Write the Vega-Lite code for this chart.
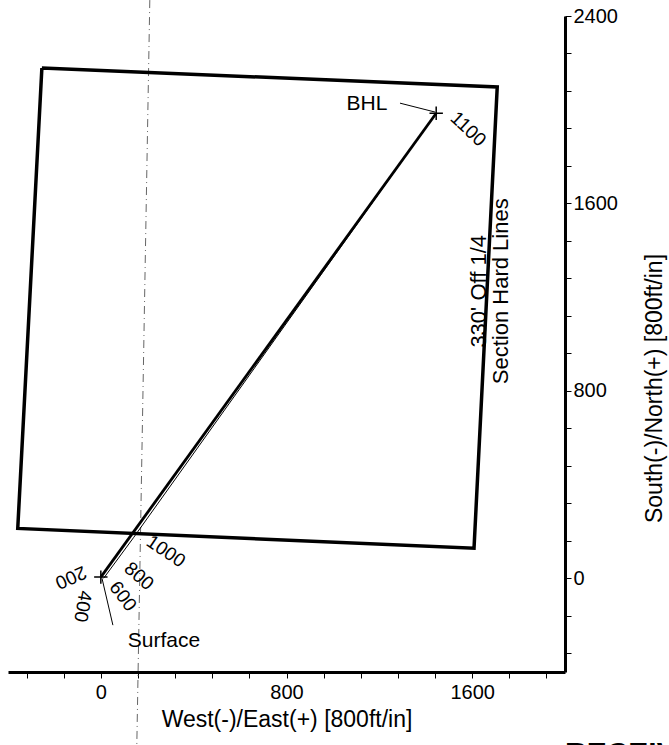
{
  "$schema": "https://vega.github.io/schema/vega-lite/v6.json",
  "width": 557,
  "height": 656,
  "autosize": {"type": "none"},
  "padding": {"left": 8, "top": 16, "right": 104, "bottom": 73},
  "background": "white",
  "config": {
    "view": {"stroke": null},
    "font": "Liberation Sans",
    "text": {"font": "Liberation Sans", "fontSize": 22, "color": "black"},
    "axis": {
      "grid": false,
      "domainColor": "black",
      "domainWidth": 3,
      "tickColor": "black",
      "tickWidth": 1,
      "tickSize": 6,
      "labelColor": "black",
      "labelFont": "Liberation Sans",
      "labelFontSize": 20,
      "titleFont": "Liberation Sans",
      "titleFontSize": 22,
      "titleFontWeight": "normal",
      "titleColor": "black"
    }
  },
  "datasets": {
    "box": [
      {"x": -254, "y": 2178, "order": 1},
      {"x": 1708, "y": 2097, "order": 2},
      {"x": 1608, "y": 128, "order": 3},
      {"x": -358, "y": 213, "order": 4},
      {"x": -254, "y": 2178, "order": 5}
    ],
    "fold": [
      {"x": 211, "y": 2468, "order": 1},
      {"x": 155, "y": -713, "order": 2}
    ],
    "well": [
      {"series": "plan", "x": 12, "y": 0, "order": 1},
      {"series": "plan", "x": 142, "y": 175, "order": 2},
      {"series": "plan", "x": 1445, "y": 1985, "order": 3},
      {"series": "actual", "x": 0, "y": 5, "order": 1},
      {"series": "actual", "x": 1445, "y": 1985, "order": 2}
    ],
    "leaders": [
      {"name": "bhl", "x": 1289, "y": 2028, "order": 1},
      {"name": "bhl", "x": 1440, "y": 1990, "order": 2},
      {"name": "surface", "x": 5, "y": 0, "order": 1},
      {"name": "surface", "x": 52, "y": -200, "order": 2}
    ],
    "crosses": [
      {"x": 0, "y": 5},
      {"x": 1445, "y": 1985}
    ],
    "labels": [
      {"label": "1100", "x": 1583, "y": 1917},
      {"label": "1000", "x": 280, "y": 115},
      {"label": "800", "x": 164, "y": 9},
      {"label": "600", "x": 95, "y": -77},
      {"label": "400", "x": -78, "y": -120},
      {"label": "200", "x": -129, "y": 4},
      {"label": "BHL", "x": 1147, "y": 2024},
      {"label": "Surface", "x": 272, "y": -269}
    ],
    "notes": [
      {"x": 1630, "y": 1225}
    ],
    "stamp": [
      {"x": 2000, "y": -687}
    ]
  },
  "encoding": {
    "x": {"field": "x", "type": "quantitative",
      "scale": {"domain": [-400, 2000], "nice": false, "zero": false},
      "axis": {
        "orient": "bottom",
        "title": "West(-)/East(+) [800ft/in]",
        "titleFontSize": 23,
        "values": [-320, -160, 0, 160, 320, 480, 640, 800, 960, 1120, 1280, 1440, 1600, 1760, 1920],
        "format": "d",
        "labelExpr": "datum.value % 800 === 0 ? datum.label : ''",
        "labelPadding": 4,
        "titlePadding": 6,
        "labelFlush": false,
        "labelOverlap": false
      }
    },
    "y": {"field": "y", "type": "quantitative",
      "scale": {"domain": [-400, 2400], "nice": false, "zero": false},
      "axis": {
        "orient": "right",
        "title": "South(-)/North(+) [800ft/in]",
        "titleFontSize": 23,
        "titleAngle": -90,
        "titleAlign": "center",
        "titleBaseline": "middle",
        "titleX": 89,
        "titleY": 372,
        "values": [-320, -160, 0, 160, 320, 480, 640, 800, 960, 1120, 1280, 1440, 1600, 1760, 1920, 2080, 2240, 2400],
        "format": "d",
        "labelExpr": "datum.value % 800 === 0 ? datum.label : ''",
        "labelPadding": 2,
        "labelFlush": false,
        "labelOverlap": false
      }
    }
  },
  "layer": [
    {
      "data": {"name": "fold"},
      "mark": {"type": "line", "color": "#666666", "strokeWidth": 1, "strokeDash": [8, 4, 1, 4]},
      "encoding": {"order": {"field": "order", "type": "ordinal"}}
    },
    {
      "data": {"name": "box"},
      "mark": {"type": "line", "color": "black", "strokeWidth": 3.5, "strokeJoin": "miter"},
      "encoding": {"order": {"field": "order", "type": "ordinal"}}
    },
    {
      "data": {"name": "well"},
      "transform": [{"filter": "datum.series === 'plan'"}],
      "mark": {"type": "line", "color": "black", "strokeWidth": 1},
      "encoding": {"order": {"field": "order", "type": "ordinal"}}
    },
    {
      "data": {"name": "well"},
      "transform": [{"filter": "datum.series === 'actual'"}],
      "mark": {"type": "line", "color": "black", "strokeWidth": 2.8},
      "encoding": {"order": {"field": "order", "type": "ordinal"}}
    },
    {
      "data": {"name": "leaders"},
      "mark": {"type": "line", "color": "black", "strokeWidth": 1},
      "encoding": {"detail": {"field": "name"}, "order": {"field": "order", "type": "ordinal"}}
    },
    {
      "data": {"name": "crosses"},
      "mark": {"type": "point", "shape": "M-1,0L1,0M0,-1L0,1", "size": 180, "stroke": "black", "strokeWidth": 1.5, "filled": false, "opacity": 1}
    },
    {
      "data": {"name": "labels"},
      "transform": [{"filter": "datum.label === '1100'"}],
      "mark": {"type": "text", "angle": 43, "align": "center", "baseline": "middle", "fontSize": 19},
      "encoding": {"text": {"field": "label"}}
    },
    {
      "data": {"name": "labels"},
      "transform": [{"filter": "datum.label === '1000'"}],
      "mark": {"type": "text", "angle": 34, "align": "center", "baseline": "middle", "fontSize": 19},
      "encoding": {"text": {"field": "label"}}
    },
    {
      "data": {"name": "labels"},
      "transform": [{"filter": "datum.label === '800'"}],
      "mark": {"type": "text", "angle": 41, "align": "center", "baseline": "middle", "fontSize": 19},
      "encoding": {"text": {"field": "label"}}
    },
    {
      "data": {"name": "labels"},
      "transform": [{"filter": "datum.label === '600'"}],
      "mark": {"type": "text", "angle": 53, "align": "center", "baseline": "middle", "fontSize": 19},
      "encoding": {"text": {"field": "label"}}
    },
    {
      "data": {"name": "labels"},
      "transform": [{"filter": "datum.label === '400'"}],
      "mark": {"type": "text", "angle": 100, "align": "center", "baseline": "middle", "fontSize": 19},
      "encoding": {"text": {"field": "label"}}
    },
    {
      "data": {"name": "labels"},
      "transform": [{"filter": "datum.label === '200'"}],
      "mark": {"type": "text", "angle": 156, "align": "center", "baseline": "middle", "fontSize": 19},
      "encoding": {"text": {"field": "label"}}
    },
    {
      "data": {"name": "labels"},
      "transform": [{"filter": "datum.label === 'BHL' || datum.label === 'Surface'"}],
      "mark": {"type": "text", "align": "center", "baseline": "middle", "fontSize": 21},
      "encoding": {"text": {"field": "label"}}
    },
    {
      "data": {"name": "notes"},
      "mark": {"type": "text", "angle": -90, "align": "center", "baseline": "middle", "lineHeight": 22, "fontSize": 22},
      "encoding": {"text": {"value": ["330' Off 1/4", "Section Hard Lines"]}}
    },
    {
      "data": {"name": "stamp"},
      "mark": {"type": "text", "align": "left", "baseline": "top", "font": "Liberation Sans", "fontWeight": "bold", "fontSize": 30},
      "encoding": {"text": {"value": "RECEIVED"}}
    }
  ]
}
